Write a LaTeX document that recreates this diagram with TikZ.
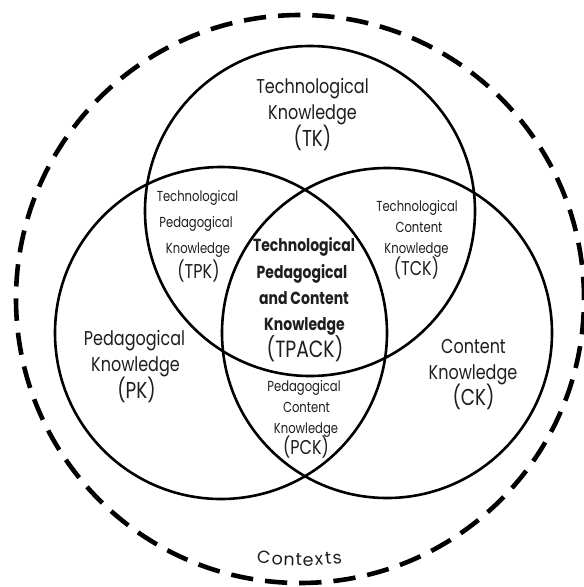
\documentclass[tikz,border=0pt]{standalone}
\usepackage{fontspec}
\setmainfont{Poppins}[FakeStretch=0.8]
\newfontfamily\ctxfont{Poppins}
\definecolor{txt}{HTML}{1E1E1E}
\begin{document}
\begin{tikzpicture}[x=1pt,y=-1pt,
  venn/.style={line width=2.6pt, draw=black},
  ctx/.style={line width=4.6pt, draw=black, dash pattern=on 22.3pt off 12pt},
  lbl/.style={inner sep=0pt, text height=0.7em, text depth=0pt, anchor=center, text=txt},
  mainlbl/.style={lbl, font=\fontsize{20}{22}\selectfont},
  mainabbr/.style={lbl, font=\fontsize{23}{25}\selectfont},
  smalllbl/.style={lbl, font=\fontsize{14.5}{16}\selectfont},
  smallabbr/.style={lbl, font=\fontsize{20}{22}\selectfont},
  corelbl/.style={lbl, font=\bfseries\fontsize{17.5}{19}\selectfont},
  coreabbr/.style={lbl, font=\fontsize{23.5}{25}\selectfont},
  ctxletter/.style={inner sep=0pt, anchor=base, text=txt, font=\ctxfont\fontsize{17.5}{19}\selectfont}]
\useasboundingbox (0,0) rectangle (584,587);
\fill[white] (0,0) rectangle (584,587);
% outer context circle
\draw[ctx] (300,299) circle[radius=284pt];
% knowledge circles
\draw[venn] (310,211) circle[radius=165pt];
\draw[venn] (221,333) circle[radius=166pt];
\draw[venn] (387,333) circle[radius=165pt];
% TK
\node[mainlbl] (tk1) at (312.5,90) {Technological};
\node[mainlbl] (tk2) at (312.5,116) {Knowledge};
\node[mainabbr] (tk3) at (312.5,143) {(TK)};
% PK
\node[mainlbl] (pk1) at (134.5,342) {Pedagogical};
\node[mainlbl] (pk2) at (135.5,368) {Knowledge};
\node[mainabbr] (pk3) at (136.5,395) {(PK)};
% CK
\node[mainlbl] (ck1) at (473.5,350) {Content};
\node[mainlbl] (ck2) at (473,376) {Knowledge};
\node[mainabbr] (ck3) at (473.5,402) {(CK)};
% TPK
\node[smalllbl] (tpk1) at (197.5,198) {Technological};
\node[smalllbl] (tpk2) at (196,224) {Pedagogical};
\node[smalllbl] (tpk3) at (198,250) {Knowledge};
\node[smallabbr] (tpk4) at (198.5,275) {(TPK)};
% TCK
\node[smalllbl] (tck1) at (417,208) {Technological};
\node[smalllbl] (tck2) at (419,229) {Content};
\node[smalllbl] (tck3) at (416.5,250) {Knowledge};
\node[smallabbr] (tck4) at (416.5,272) {(TCK)};
% PCK
\node[smalllbl] (pck1) at (304,388) {Pedagogical};
\node[smalllbl] (pck2) at (306.5,409) {Content};
\node[smalllbl] (pck3) at (306,430) {Knowledge};
\node[smallabbr] (pck4) at (306,451) {(PCK)};
% TPACK
\node[corelbl] (tp1) at (304,248) {Technological};
\node[corelbl] (tp2) at (302,275) {Pedagogical};
\node[corelbl] (tp3) at (304,301) {and Content};
\node[corelbl] (tp4) at (304.5,327) {Knowledge};
\node[coreabbr] (tp5) at (305,354) {(TPACK)};
% Contexts, letters set along a gentle arc
\node[ctxletter, rotate=-7.1] (c1) at (263.0,563.7) {C};
\node[ctxletter, rotate=-4.4] (c2) at (276.9,565.1) {o};
\node[ctxletter, rotate=-2.1] (c3) at (288.9,565.8) {n};
\node[ctxletter, rotate=-0.3] (c4) at (298.7,566.0) {t};
\node[ctxletter, rotate=1.6]  (c5) at (308.4,565.9) {e};
\node[ctxletter, rotate=3.7]  (c6) at (319.4,565.4) {x};
\node[ctxletter, rotate=5.5]  (c7) at (328.9,564.6) {t};
\node[ctxletter, rotate=7.3]  (c8) at (338.0,563.6) {s};
\end{tikzpicture}
\end{document}
